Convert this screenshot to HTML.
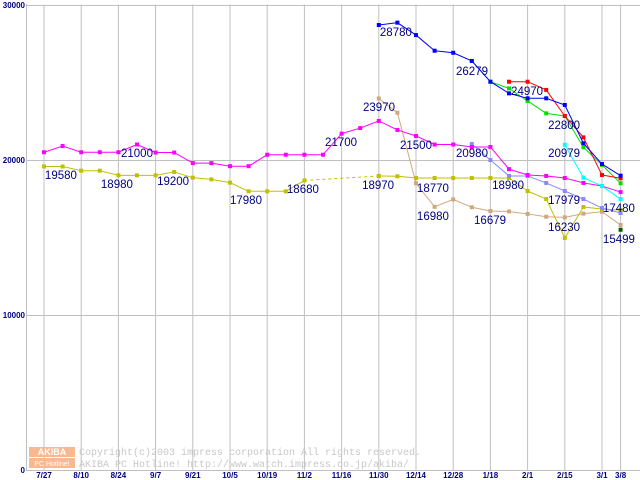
<!DOCTYPE html>
<html><head><meta charset="utf-8"><style>
html,body{margin:0;padding:0;background:#fff;}
svg{display:block;font-family:"Liberation Sans",sans-serif;}
</style></head><body>
<svg id="chart" width="640" height="480">
<g id="grid"></g>
<g id="wm">
<rect x="29" y="447" width="46" height="10" fill="#f8b890"/>
<rect x="29" y="458" width="46" height="10" fill="#f8b890"/>
<text x="52" y="455" font-size="9" fill="#fff" text-anchor="middle" font-weight="bold">AKIBA</text>
<text x="52" y="466" font-size="7" fill="#fff" text-anchor="middle">PC Hotline!</text>
<text x="79" y="455" font-size="10" fill="#c8c8c8" font-family="Liberation Mono,monospace">Copyright(c)2003 impress corporation All rights reserved.</text>
<text x="79" y="467" font-size="10" fill="#c8c8c8" font-family="Liberation Mono,monospace">AKIBA PC Hotline!  http://www.watch.impress.co.jp/akiba/</text>
</g>
<g id="series"></g>
<g id="labels"></g>
</svg>
<script>
const xLabels=["7/27","8/10","8/24","9/7","9/21","10/5","10/19","11/2","11/16","11/30","12/14","12/28","1/18","2/1","2/15","3/1","3/8"];
const xLabelIdx=[0,2,4,6,8,10,12,14,16,18,20,22,24,26,28,30,31];
const yTicks=[0,10000,20000,30000];
const N=null;
const magenta=[20500,20900,20500,20500,20500,21000,20480,20480,19800,19800,19600,19600,20340,20340,20340,20340,21700,22060,22520,21940,21550,21000,21000,20840,20840,19410,19030,18970,18840,18520,18320,17930];
const olive=[19580,19580,19310,19310,19010,19010,19010,19230,18860,18750,18540,17980,17980,17980,18680,N,N,N,18970,18950,18840,18840,18840,18840,18840,18840,18000,17480,14970,16970,16840,16770];
const tan=[N,N,N,N,N,N,N,N,N,N,N,N,N,N,N,N,N,N,23970,23050,18500,16980,17460,16950,16710,16679,16520,16340,16300,16540,16660,15810];
const darkgreen=[N,N,N,N,N,N,N,N,N,N,N,N,N,N,N,N,N,N,N,N,N,N,N,N,N,N,N,N,N,N,N,15499];
const lavender=[N,N,N,N,N,N,N,N,N,N,N,N,N,N,N,N,N,N,N,N,N,N,N,21030,20000,18970,18970,18520,18000,17480,16900,16580];
const blue=[N,N,N,N,N,N,N,N,N,N,N,N,N,N,N,N,N,N,28710,28860,28060,27050,26920,26390,25050,24300,23980,23980,23550,21080,19740,18990];
const green=[N,N,N,N,N,N,N,N,N,N,N,N,N,N,N,N,N,N,N,N,N,N,N,26390,25050,24620,23810,23010,22840,20820,19680,18500];
const red=[N,N,N,N,N,N,N,N,N,N,N,N,N,N,N,N,N,N,N,N,N,N,N,N,N,25050,25050,24520,22840,21460,19030,18820];
const cyan=[N,N,N,N,N,N,N,N,N,N,N,N,N,N,N,N,N,N,N,N,N,N,N,N,N,N,N,N,20979,18860,18320,17480];
const labelTexts=["19580","21000","18980","19200","17980","18680","21700","28780","26279","24970","23970","22800","21500","20980","20979","18970","18770","18980","17979","17480","16980","16679","16230","15499"];
const labelIdx=[0.91,5.0,3.92,6.94,10.86,13.92,15.97,18.92,23.01,25.97,18.01,27.96,20.0,23.01,27.96,17.96,20.91,24.95,27.96,30.91,20.91,23.98,27.96,30.91];
const labelVals=[18774,20194,18194,18387,17161,17871,20903,28000,25484,24194,23161,22000,20710,20194,20194,18129,17935,18129,17161,16645,16129,15871,15419,14645];

const X=i=>44+18.6*i, Y=v=>470-v*155/10000;
const ns="http://www.w3.org/2000/svg";
function mk(tag,attrs,parent){const e=document.createElementNS(ns,tag);for(const k in attrs)e.setAttribute(k,attrs[k]);parent.appendChild(e);return e;}
const grid=document.getElementById('grid');
for(let k=0;k<xLabelIdx.length;k++){
 const x=X(xLabelIdx[k]);
 const l=mk('line',{x1:x,x2:x,y1:4.5,y2:470,stroke:'#c0c0c0'},grid);
 
 
 const t=mk('text',{x:x,y:478,'font-size':8,'font-weight':'bold',fill:'#000080','text-anchor':'middle'},grid);
 t.textContent=xLabels[k];
 
 
}
for(const v of yTicks){
 const y=Y(v);
 const l=mk('line',{x1:26,x2:640,y1:y+0.5,y2:y+0.5,stroke:'#c0c0c0'},grid);
 
 
 const t=mk('text',{x:25,y:y+3,'font-size':8,'font-weight':'bold',fill:'#000080','text-anchor':'end'},grid);
 t.textContent=String(v);
 
 
}
const ax=mk('line',{x1:26.5,x2:26.5,y1:4,y2:470,stroke:'#c0c0c0'},grid);



const sg=document.getElementById('series');
function draw(arr,color,name){
 const g=mk('g',{},sg);
 
 
 let prev=-1;
 for(let i=0;i<arr.length;i++){
  if(arr[i]==null)continue;
  if(prev>=0){
   const l=mk('line',{x1:X(prev),y1:Y(arr[prev]),x2:X(i),y2:Y(arr[i]),stroke:color,'stroke-width':1},g);
   if(i-prev>1)l.setAttribute('stroke-dasharray','3,3');
   
   
  }
  const r=mk('rect',{x:X(i)-2,y:Y(arr[i])-2,width:4,height:4,fill:color},g);
  
  
  prev=i;
 }
}
draw(tan,'#d0a880','tan-series');
draw(olive,'#c0c000','olive-series');
draw(lavender,'#8888ff','lavender-series');
draw(magenta,'#ff00ff','magenta-series');
draw(cyan,'#00ffff','cyan-series');
draw(green,'#00e000','green-series');
draw(red,'#ff0000','red-series');
draw(blue,'#0000ff','blue-series');
draw(darkgreen,'#006000','darkgreen-series');

const lg=document.getElementById('labels');
for(let k=0;k<labelTexts.length;k++){
 const t=mk('text',{x:X(labelIdx[k]),y:Y(labelVals[k]),'font-size':11.5,fill:'#000080','text-anchor':'middle'},lg);
 t.textContent=labelTexts[k];
 
 
}
</script>
</body></html>
